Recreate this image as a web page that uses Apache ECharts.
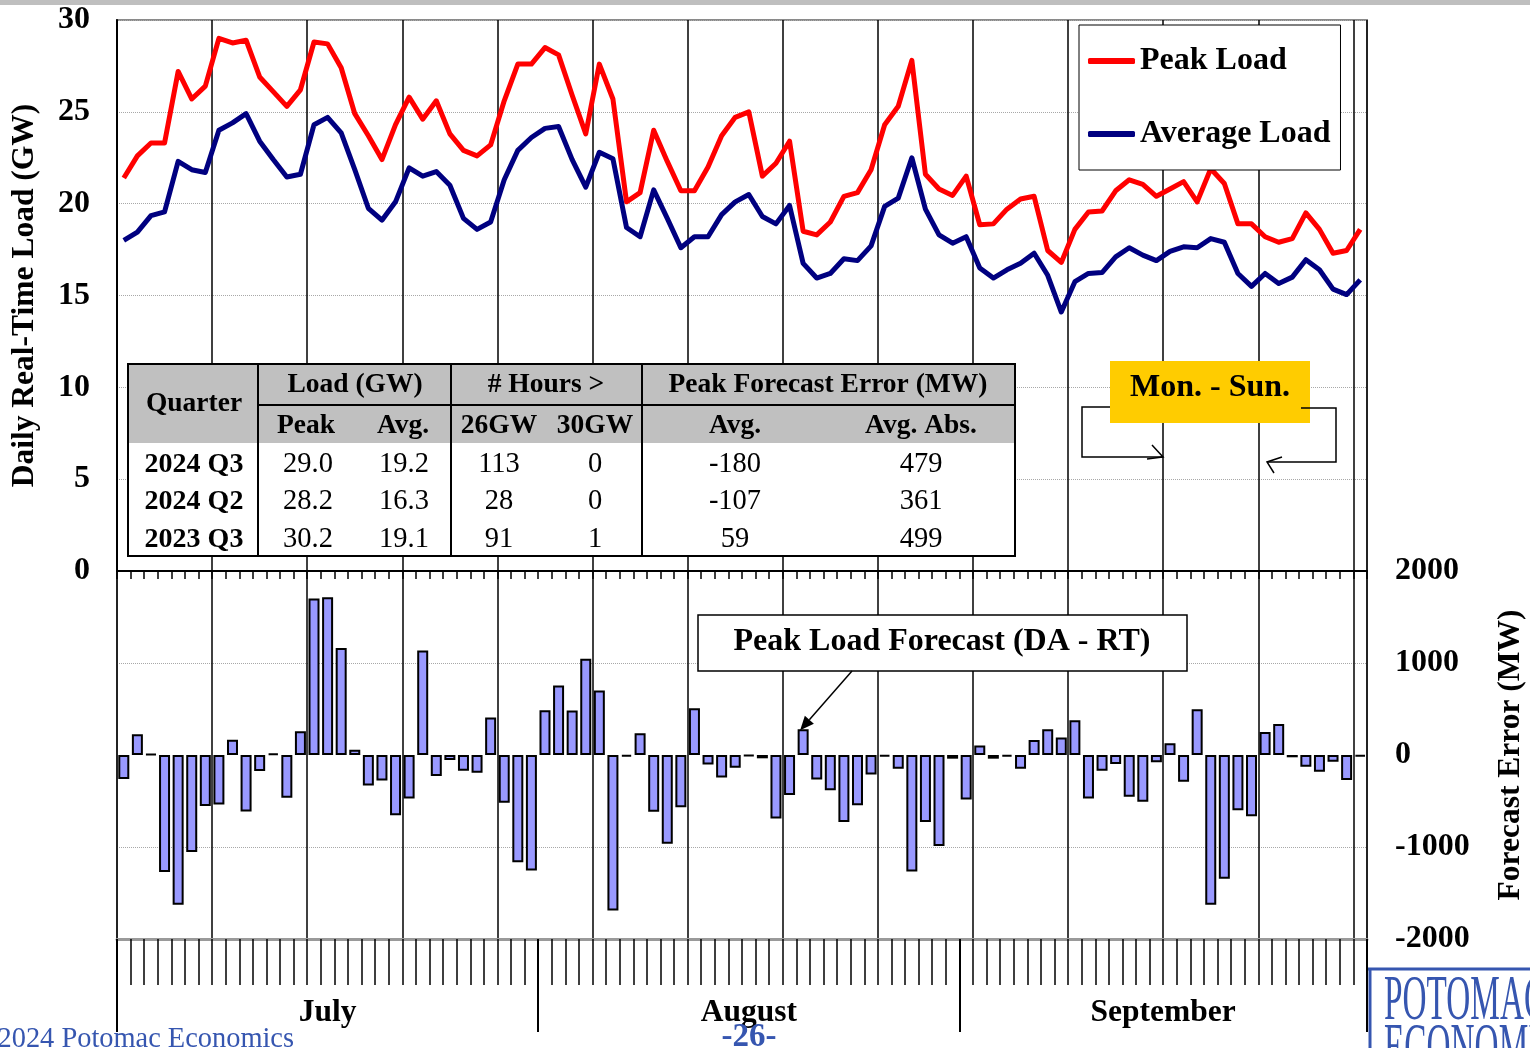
<!DOCTYPE html>
<html>
<head>
<meta charset="utf-8">
<title>Daily Real-Time Load and Peak Load Forecast Error, 2024 Q3</title>
<script src="https://cdn.jsdelivr.net/npm/echarts@6/dist/echarts.min.js"></script>
<style>
  html, body { margin: 0; padding: 0; background: #ffffff; }
  #chart { width: 1530px; height: 1048px; }
</style>
</head>
<body>
<div id="chart"></div>
<script>
// ---- Calendar: July 1 - September 30, 2024 ----
const monthNames = ['July', 'August', 'September'];
const monthNums = [7, 8, 9];
const monthDays = [31, 31, 30];

// ---- Daily real-time load (GW) ----
const peakLoad = [
  21.4, 22.6, 23.3, 23.3, 27.2, 25.7, 26.4, 29.0, 28.75, 28.9, 26.9, 26.1, 25.3, 26.2, 28.8, 28.7,
  27.4, 24.9, 23.7, 22.4, 24.3, 25.8, 24.6, 25.6, 23.8, 22.9, 22.6, 23.2, 25.6, 27.6, 27.6,
  28.5, 28.1, 25.9, 23.8, 27.6, 25.7, 20.1, 20.6, 24.0, 22.3, 20.7, 20.7, 22.0, 23.7, 24.7, 25.0,
  21.5, 22.2, 23.4, 18.5, 18.3, 19.0, 20.4, 20.6, 21.85, 24.3, 25.3, 27.8, 21.6, 20.8, 20.45,
  21.5, 18.85, 18.9, 19.7, 20.25, 20.4, 17.45, 16.8, 18.6, 19.55, 19.6, 20.7, 21.3, 21.05, 20.4,
  20.8, 21.2, 20.1, 21.9, 21.1, 18.9, 18.9, 18.2, 17.9, 18.1, 19.5, 18.6, 17.3, 17.45, 18.6
];
const avgLoad = [
  18.0, 18.45, 19.35, 19.55, 22.3, 21.85, 21.7, 24.0, 24.4, 24.9, 23.4, 22.4, 21.45, 21.6, 24.3, 24.7,
  23.85, 21.85, 19.75, 19.1, 20.1, 21.95, 21.5, 21.75, 21.0, 19.2, 18.6, 19.0, 21.3, 22.9, 23.6,
  24.1, 24.2, 22.4, 20.9, 22.8, 22.45, 18.7, 18.2, 20.75, 19.2, 17.6, 18.2, 18.2, 19.4, 20.1, 20.5,
  19.3, 18.9, 19.9, 16.75, 15.95, 16.2, 17.0, 16.9, 17.7, 19.85, 20.3, 22.5, 19.7, 18.3, 17.85,
  18.2, 16.5, 15.95, 16.4, 16.75, 17.3, 16.1, 14.1, 15.75, 16.2, 16.25, 17.1, 17.6, 17.2, 16.9,
  17.4, 17.65, 17.6, 18.1, 17.9, 16.2, 15.5, 16.2, 15.65, 16.0, 16.95, 16.4, 15.35, 15.05, 15.85
];

// ---- Day-ahead minus real-time peak load forecast error (MW) ----
const forecastError = [
  -260, 225, 10, -1273, -1629, -1055, -553, -538, 167, -615, -175, 18, -465, 258, 1702, 1716,
  1164, 58, -331, -276, -655, -473, 1135, -229, -55, -171, -193, 407, -520, -1167, -1255,
  487, 756, 484, 1047, 702, -1691, -18, 236, -618, -964, -567, 509, -102, -244, -138, -10,
  -36, -691, -436, 280, -265, -382, -727, -545, -211, -15, -149, -1265, -727, -989, -40,
  -484, 102, -40, -18, -149, 164, 280, 189, 378, -473, -171, -98, -455, -509, -80,
  127, -291, 498, -1629, -1345, -600, -665, 251, 338, -25, -127, -182, -73, -273, -15
];
const calloutDay = 50; // Aug 20, the bar the forecast-error callout points at

// ---- Axis ranges ----
const loadMin = 0, loadMax = 30, loadStep = 5;
const errMin = -2000, errMax = 2000, errStep = 1000;

// ---- Summary table ----
const tblQuarter = ['2024 Q3', '2024 Q2', '2023 Q3'];
const tblPeak = ['29.0', '28.2', '30.2'];
const tblAvg = ['19.2', '16.3', '19.1'];
const tblHrs26 = ['113', '28', '91'];
const tblHrs30 = ['0', '0', '1'];
const tblErrAvg = ['-180', '-107', '59'];
const tblErrAbs = ['479', '361', '499'];

// Day categories and month boundaries derived from the calendar
const days = [];
const monthBounds = [0];
const monthMids = [];
monthDays.forEach((n, m) => {
  for (let d = 1; d <= n; d++) days.push(monthNums[m] + '/' + d);
  const start = monthBounds[monthBounds.length - 1];
  monthMids.push(start + n / 2);
  monthBounds.push(start + n);
});

const SERIF = '"Liberation Serif", "Times New Roman", serif';
const BLUE = '#3656B0';

const chart = echarts.init(document.getElementById('chart'), null, { renderer: 'canvas' });

function txt(text, x, y, opts) {
  opts = opts || {};
  return {
    type: 'text',
    z: 100,
    style: {
      text: text, x: x, y: y,
      fill: opts.fill || '#000',
      font: (opts.bold === false ? '' : 'bold ') + (opts.size || 27.5) + 'px ' + SERIF,
      align: opts.align || 'center',
      verticalAlign: opts.vAlign || 'middle'
    }
  };
}
function line(x1, y1, x2, y2, w, color) {
  return { type: 'line', z: 100, shape: { x1: x1, y1: y1, x2: x2, y2: y2 },
           style: { stroke: color || '#000', lineWidth: w || 2 } };
}
function poly(points, w) {
  return { type: 'polyline', z: 100, shape: { points: points },
           style: { stroke: '#000', lineWidth: w || 1.5, fill: null } };
}

// ---- Summary table graphics ----
function buildTable() {
  const x0 = 128, x1 = 1015, y0 = 364, y1 = 556;
  const els = [
    { type: 'rect', z: 99, shape: { x: x0, y: y0, width: x1 - x0, height: 79 }, style: { fill: '#C0C0C0' } },
    { type: 'rect', z: 99, shape: { x: x0, y: y0 + 79, width: x1 - x0, height: y1 - y0 - 79 }, style: { fill: '#fff' } },
    line(258, y0, 258, y1, 2), line(451, y0, 451, y1, 2), line(642, y0, 642, y1, 2),
    line(258, 405, x1, 405, 2),
    { type: 'rect', z: 101, shape: { x: x0, y: y0, width: x1 - x0, height: y1 - y0 },
      style: { fill: null, stroke: '#000', lineWidth: 2 } },
    txt('Quarter', 194, 404), txt('Load (GW)', 355, 385), txt('# Hours >', 546, 385),
    txt('Peak Forecast Error (MW)', 828, 385),
    txt('Peak', 306, 426), txt('Avg.', 403, 426), txt('26GW', 499, 426), txt('30GW', 595, 426),
    txt('Avg.', 735, 426), txt('Avg. Abs.', 921, 426)
  ];
  const rowY = [465, 502, 540];
  const cols = [[tblPeak, 308], [tblAvg, 404], [tblHrs26, 499], [tblHrs30, 595], [tblErrAvg, 735], [tblErrAbs, 921]];
  tblQuarter.forEach((q, r) => {
    els.push(txt(q, 194, rowY[r], { size: 28 }));
    cols.forEach(c => els.push(txt(c[0][r], c[1], rowY[r], { bold: false, size: 28.5 })));
  });
  return els;
}

// ---- Week marker (Mon. - Sun.) ----
function buildWeekMarker() {
  return [
    { type: 'rect', z: 99, shape: { x: 1110, y: 361, width: 200, height: 62 }, style: { fill: '#FFCC00' } },
    txt('Mon. - Sun.', 1210, 388, { size: 32 }),
    poly([[1110, 407], [1082, 407], [1082, 457], [1163, 457]]),
    poly([[1152, 445], [1163, 457], [1147, 459]]),
    poly([[1301, 408], [1336, 408], [1336, 462], [1267, 462]]),
    poly([[1282, 457], [1267, 462], [1274, 473]])
  ];
}

// ---- Footer and logo ----
function buildFooter() {
  const logo = (text, y) => ({
    type: 'text', z: 100, x: 1384, y: y, scaleX: 0.52,
    style: { text: text, x: 0, y: 0, fill: BLUE, font: '64px ' + SERIF, align: 'left', verticalAlign: 'top' }
  });
  return [
    { type: 'rect', z: 100, shape: { x: 0, y: 0, width: 1530, height: 5 }, style: { fill: '#BFBFBF' } },
    txt('\u00A92024 Potomac Economics', 294, 1040, { bold: false, size: 28.4, fill: BLUE, align: 'right' }),
    txt('-26-', 749, 1037, { size: 33, fill: BLUE }),
    line(1368, 969, 1530, 969, 3, BLUE),
    line(1370, 969, 1370, 1048, 3, BLUE),
    logo('POTOMAC', 970),
    logo('ECONOMICS', 1018)
  ];
}

const axisFont = { fontFamily: SERIF, fontWeight: 'bold', fontSize: 32, color: '#000' };
const nameFont = { fontFamily: SERIF, fontWeight: 'bold', fontSize: 31.5, color: '#000' };
const plain = (v) => String(v);
const weekLine = {
  show: true,
  interval: (i) => i % 7 === 0,
  lineStyle: { color: '#000', width: 1.5 }
};
const gridBase = { left: 117, width: 1250, containLabel: false, outerBoundsMode: 'none' };

const option = {
  animation: false,
  backgroundColor: '#ffffff',
  textStyle: { fontFamily: SERIF },
  grid: [
    { ...gridBase, top: 20, height: 551, show: true, borderColor: '#8A8A8A', borderWidth: 2, backgroundColor: 'transparent' },
    { ...gridBase, top: 571, height: 368, show: true, borderColor: '#8A8A8A', borderWidth: 2, backgroundColor: 'transparent' },
    { ...gridBase, top: 939, height: 93 }
  ],
  xAxis: [
    {
      gridIndex: 0, type: 'category', data: days, boundaryGap: true,
      axisLine: { onZero: false, lineStyle: { color: '#000', width: 2 } },
      axisTick: { show: true, interval: 0, length: 8, lineStyle: { color: '#000', width: 1.5 } },
      axisLabel: { show: false },
      splitLine: weekLine
    },
    {
      gridIndex: 1, type: 'category', data: days, boundaryGap: true, position: 'bottom',
      axisLine: { onZero: false, lineStyle: { color: '#9A9A9A', width: 3 } },
      axisTick: { show: true, interval: 0, length: 46, lineStyle: { color: '#000', width: 1.5 } },
      axisLabel: { show: false },
      splitLine: weekLine
    },
    {
      gridIndex: 2, type: 'value', min: 0, max: days.length, position: 'bottom',
      axisLine: { show: false, onZero: false },
      axisTick: { show: true, inside: true, length: 93, customValues: monthBounds,
                  lineStyle: { color: '#000', width: 2 } },
      axisLabel: {
        show: true, inside: true, margin: 3, customValues: monthMids,
        formatter: (v) => monthNames[monthMids.indexOf(v)] || '',
        ...nameFont
      },
      splitLine: { show: false }
    }
  ],
  yAxis: [
    {
      gridIndex: 0, type: 'value', min: loadMin, max: loadMax, interval: loadStep,
      axisLine: { show: true, lineStyle: { color: '#000', width: 2 } },
      axisTick: { show: false },
      axisLabel: { margin: 27, formatter: plain, ...axisFont },
      splitLine: { show: true, lineStyle: { color: '#A8A8A8', width: 1, type: 'dotted' } },
      name: 'Daily Real-Time Load (GW)', nameLocation: 'middle', nameGap: 76, nameRotate: 90,
      nameTextStyle: nameFont
    },
    {
      gridIndex: 1, type: 'value', position: 'right', min: errMin, max: errMax, interval: errStep,
      axisLine: { show: false }, axisTick: { show: false },
      axisLabel: { margin: 28, formatter: plain, ...axisFont },
      splitLine: { show: true, lineStyle: {
        color: ['transparent', '#A8A8A8', 'transparent', '#A8A8A8', 'transparent'], width: 1, type: 'dotted' } },
      name: 'Forecast Error (MW)', nameLocation: 'middle', nameGap: 128, nameRotate: 90,
      nameTextStyle: nameFont
    },
    { gridIndex: 2, type: 'value', show: false }
  ],
  legend: {
    data: ['Peak Load', 'Average Load'],
    orient: 'vertical', left: 1079, top: 25,
    backgroundColor: '#ffffff', borderColor: '#000', borderWidth: 1,
    padding: [20, 10, 20, 9], itemGap: 41,
    itemWidth: 47, itemHeight: 6, icon: 'roundRect',
    textStyle: { fontFamily: SERIF, fontWeight: 'bold', fontSize: 32, color: '#000' },
    z: 50
  },
  series: [
    {
      name: 'Peak Load', type: 'line', xAxisIndex: 0, yAxisIndex: 0, data: peakLoad,
      symbol: 'none', showSymbol: false, color: '#FF0000',
      lineStyle: { color: '#FF0000', width: 5, join: 'round' }, z: 4
    },
    {
      name: 'Average Load', type: 'line', xAxisIndex: 0, yAxisIndex: 0, data: avgLoad,
      symbol: 'none', showSymbol: false, color: '#000080',
      lineStyle: { color: '#000080', width: 5, join: 'round' }, z: 4
    },
    {
      name: 'Peak Load Forecast (DA - RT)', type: 'bar', xAxisIndex: 1, yAxisIndex: 1, data: forecastError,
      barWidth: 11,
      itemStyle: { color: '#9999FF', borderColor: '#000', borderWidth: 2 }, z: 3
    }
  ],
  graphic: [].concat(buildTable(), buildWeekMarker(), buildFooter())
};

chart.setOption(option);

// Callout box for the forecast-error bars, with its arrow ending on the callout bar
const tip = chart.convertToPixel({ seriesIndex: 2 }, [calloutDay, forecastError[calloutDay]]);
const from = [852, 671];
const to = [tip[0] - 3, tip[1] + 1];
const dx = to[0] - from[0], dy = to[1] - from[1];
const len = Math.sqrt(dx * dx + dy * dy);
const ux = dx / len, uy = dy / len;
const headL = 14, headW = 6;
const bx = to[0] - ux * headL, by = to[1] - uy * headL;
chart.setOption({
  graphic: [].concat(option.graphic, [
    { type: 'rect', z: 99, shape: { x: 698, y: 615, width: 489, height: 56 },
      style: { fill: '#fff', stroke: '#000', lineWidth: 1.5 } },
    txt('Peak Load Forecast (DA - RT)', 942, 642, { size: 32 }),
    line(from[0], from[1], bx, by, 1.5),
    { type: 'polygon', z: 100,
      shape: { points: [[to[0], to[1]], [bx - uy * headW, by + ux * headW], [bx + uy * headW, by - ux * headW]] },
      style: { fill: '#000' } }
  ])
}, { replaceMerge: ['graphic'] });
</script>
</body>
</html>
